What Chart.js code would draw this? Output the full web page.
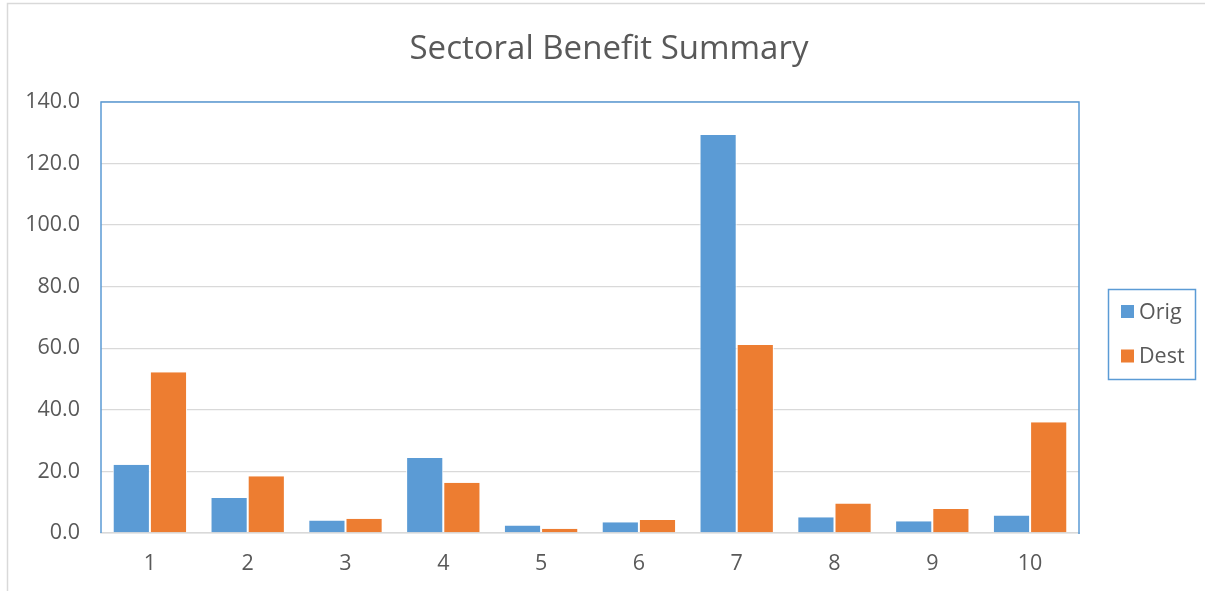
<!DOCTYPE html>
<html>
<head>
<meta charset="utf-8">
<script src="https://cdn.jsdelivr.net/npm/chart.js@4"></script>
<style>
  html, body { margin: 0; padding: 0; background: #fff; }
  #wrap { width: 1205px; height: 591px; position: relative; }
</style>
</head>
<body>
<div id="wrap"><canvas id="c" width="1205" height="591"></canvas></div>
<script>
// Sector numbers along the x axis
const sectors = ['1', '2', '3', '4', '5', '6', '7', '8', '9', '10'];
// Benefit per sector, origin and destination
const origValues = [22.2, 11.4, 4.1, 24.4, 2.4, 3.5, 129.3, 5.1, 3.8, 5.7];
const destValues = [52.2, 18.4, 4.6, 16.3, 1.4, 4.2, 61.1, 9.6, 7.8, 36.0];
const seriesNames = ['Orig', 'Dest'];
const seriesColors = ['#5B9BD5', '#ED7D31'];
const chartTitle = 'Sectoral Benefit Summary';
// Value axis range
const yMin = 0, yMax = 140, yStep = 20;

const FONT = '"Open Sans", "Liberation Sans", sans-serif';
const TEXT = '#595959';
const GRID = '#D9D9D9';
const FRAME = '#5B9BD5';

// Outer frame, centred title and blue frame around the plot area
const framePlugin = {
  id: 'frames',
  beforeDraw(chart) {
    const ctx = chart.ctx;
    ctx.save();
    ctx.strokeStyle = GRID;
    ctx.lineWidth = 1.5;
    ctx.beginPath();
    ctx.moveTo(7.5, chart.height + 2);
    ctx.lineTo(7.5, 3.5);
    ctx.lineTo(chart.width + 2, 3.5);
    ctx.stroke();

    ctx.fillStyle = TEXT;
    ctx.font = '33px ' + FONT;
    ctx.textAlign = 'center';
    ctx.textBaseline = 'alphabetic';
    ctx.fillText(chartTitle, 609, 59);
    ctx.restore();
  },
  afterDraw(chart) {
    const a = chart.chartArea, ctx = chart.ctx;
    ctx.save();
    ctx.strokeStyle = FRAME;
    ctx.lineWidth = 1.5;
    ctx.beginPath();
    ctx.moveTo(a.left, a.bottom);
    ctx.lineTo(a.left, a.top);
    ctx.lineTo(a.right, a.top);
    ctx.lineTo(a.right, a.bottom + 1);
    ctx.stroke();
    ctx.restore();
  }
};

// Boxed legend to the right of the plot area
const boxedLegend = {
  id: 'boxedLegend',
  afterDraw(chart) {
    const ctx = chart.ctx;
    const box = { x: 1108.5, y: 289.5, w: 87, h: 90 };
    ctx.save();
    ctx.strokeStyle = FRAME;
    ctx.lineWidth = 1.5;
    ctx.strokeRect(box.x, box.y, box.w, box.h);
    ctx.font = '21.5px ' + FONT;
    ctx.textBaseline = 'middle';
    ctx.textAlign = 'left';
    chart.data.datasets.forEach((ds, i) => {
      const cy = 311.5 + i * 44.5;
      ctx.fillStyle = ds.backgroundColor;
      ctx.fillRect(1121, cy - 6.5, 13, 13);
      ctx.fillStyle = TEXT;
      ctx.fillText(ds.label, 1139, cy + 1);
    });
    ctx.restore();
  }
};

new Chart(document.getElementById('c'), {
  type: 'bar',
  data: {
    labels: sectors,
    datasets: [
      { label: seriesNames[0], data: origValues, backgroundColor: seriesColors[0],
        borderColor: '#ffffff', borderWidth: { left: 1, right: 1, top: 0, bottom: 0 } },
      { label: seriesNames[1], data: destValues, backgroundColor: seriesColors[1],
        borderColor: '#ffffff', borderWidth: { left: 1, right: 1, top: 0, bottom: 0 } }
    ]
  },
  options: {
    responsive: false,
    animation: false,
    devicePixelRatio: 1,
    layout: { padding: { left: 0, right: 126, top: 102, bottom: 0 } },
    datasets: { bar: { categoryPercentage: 0.76, barPercentage: 1.0 } },
    plugins: {
      legend: { display: false },
      tooltip: { enabled: false },
      title: { display: false }
    },
    scales: {
      x: {
        grid: { display: false, drawTicks: false },
        border: { display: true, color: GRID, width: 1.5 },
        ticks: { color: TEXT, font: { family: FONT, size: 21.5 }, padding: 18 },
        afterFit(s) { s.height = 58; }
      },
      y: {
        min: yMin, max: yMax,
        grid: { color: GRID, lineWidth: 1.3, drawTicks: false },
        border: { display: false },
        ticks: {
          stepSize: yStep, color: TEXT, padding: 21,
          font: { family: FONT, size: 21.5 },
          callback: v => v.toFixed(1)
        },
        afterFit(s) { s.width = 101; }
      }
    }
  },
  plugins: [framePlugin, boxedLegend]
});
</script>
</body>
</html>
